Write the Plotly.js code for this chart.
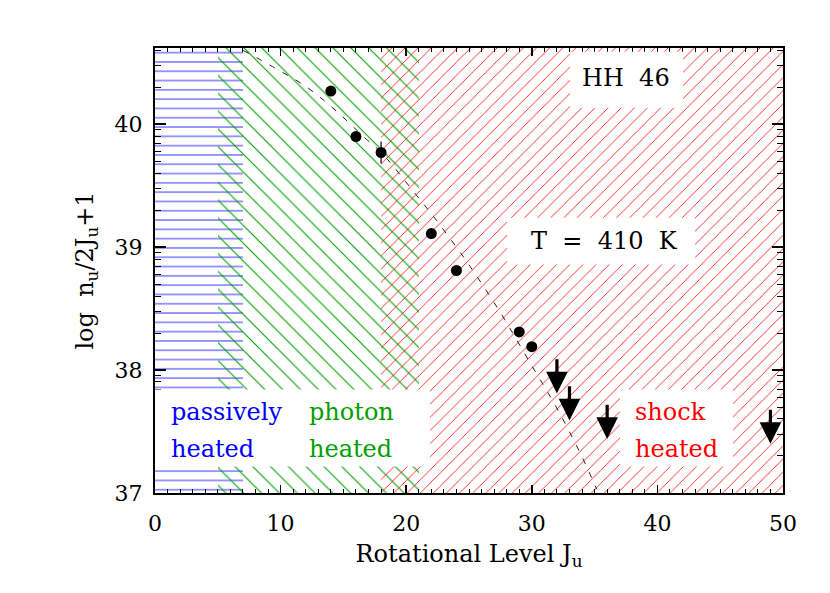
<!DOCTYPE html>
<html>
<head>
<meta charset="utf-8">
<script src="https://cdn.plot.ly/plotly-3.0.1.min.js"></script>
<style>
  html, body { margin: 0; padding: 0; background: #fff; }
  #plot { width: 830px; height: 593px; }
</style>
</head>
<body>
<div id="plot"></div>
<script>
// detected levels
const levelJ = [14, 16, 18, 22, 24, 29, 30];
const levelLogN = [40.27, 39.90, 39.77, 39.11, 38.81, 38.31, 38.19];
const levelErr = [0, 0, 0.09, 0, 0, 0, 0];

// upper limits (top of the arrow)
const limitJ = [32, 33, 36, 49];
const limitLogN = [38.10, 37.88, 37.73, 37.69];

// T = 410 K fit
const fitJ = [7.03, 9.55, 12.08, 14.47, 16.72, 18.05, 20.57, 22.43, 25.08, 27.60, 29.86, 31.98, 33.97, 35.17];
const fitLogN = [40.60, 40.457, 40.302, 40.104, 39.888, 39.766, 39.454, 39.215, 38.844, 38.451, 38.059, 37.693, 37.30, 37.03];

// heating regions in J
const regionName = ['passively heated', 'photon heated', 'shock heated'];
const regionStart = [0, 5, 18];
const regionEnd = [7, 21, 50];
const regionColor = ['#0000ff', '#00a000', '#ff0000'];
const regionHatch = ['-', '\\', '/'];
const regionHatchSize = [9.3, 12.6, 9.3];

const xTicks = [0, 10, 20, 30, 40, 50];
const yTicks = [37, 38, 39, 40];

const yRange = [37, 40.62];
const arrowLen = 0.29;
const font = 'DejaVu Serif';

// log-style minor ticks as drawn by IDL
const yMinor = [];
yTicks.forEach(n => {
  for (let k = 2; k <= 9; k++) {
    const v = n + Math.log10(k);
    if (v < yRange[1]) yMinor.push(v);
  }
});

const traces = regionName.map((name, i) => ({
  type: 'bar',
  name: name,
  x: [(regionStart[i] + regionEnd[i]) / 2],
  width: [regionEnd[i] - regionStart[i]],
  base: [yRange[0]],
  y: [yRange[1] - yRange[0]],
  marker: {
    color: regionColor[i],
    line: { width: 0 },
    pattern: { shape: regionHatch[i], size: regionHatchSize[i], solidity: 0.085, fillmode: 'replace' }
  },
  hoverinfo: 'skip'
}));

traces.push({
  type: 'scatter',
  mode: 'lines',
  x: fitJ,
  y: fitLogN,
  line: { color: '#222', width: 1, dash: '6px,9px', shape: 'spline' },
  hoverinfo: 'skip'
});

traces.push({
  type: 'scatter',
  mode: 'markers',
  x: levelJ,
  y: levelLogN,
  marker: { color: 'black', size: 11 },
  error_y: { type: 'data', array: levelErr, width: 0, thickness: 1.2, color: 'black' }
});

const annotations = limitJ.map((j, i) => ({
  x: j, y: limitLogN[i] - arrowLen,
  ax: j, ay: limitLogN[i],
  xref: 'x', yref: 'y', axref: 'x', ayref: 'y',
  text: '', showarrow: true,
  arrowhead: 2, arrowsize: 1.35, arrowwidth: 3.2, arrowcolor: 'black'
}));

const nb = '\u00a0';
function label(text, x, y, color, anchor) {
  return {
    x: x, y: y, xref: 'x', yref: 'y', text: text, showarrow: false,
    xanchor: anchor, yanchor: 'middle',
    font: { family: font, size: 24, color: color }
  };
}
annotations.push(
  label('HH' + nb + nb + '46', 37.5, 40.378, 'black', 'center'),
  label('T' + nb + nb + '=' + nb + nb + '410' + nb + nb + 'K', 35.75, 39.053, 'black', 'center'),
  label('passively', 1.1, 37.655, regionColor[0], 'left'),
  label('heated', 1.1, 37.362, regionColor[0], 'left'),
  label('photon', 12.1, 37.655, regionColor[1], 'left'),
  label('heated', 12.1, 37.362, regionColor[1], 'left'),
  label('shock', 38.06, 37.655, regionColor[2], 'left'),
  label('heated', 38.06, 37.362, regionColor[2], 'left')
);

// white boxes behind the labels
function box(x0, x1, y0, y1) {
  return { type: 'rect', xref: 'x', yref: 'y', x0: x0, x1: x1, y0: y0, y1: y1,
    fillcolor: 'white', line: { width: 0 }, layer: 'above' };
}
const shapes = [
  box(33.04, 42.04, 40.134, 40.59),
  box(28.03, 43.0, 38.858, 39.24),
  box(0, 21.9, 37.215, 37.842),
  box(37.02, 46.02, 37.215, 37.842)
];

const layout = {
  width: 830,
  height: 593,
  margin: { l: 155, r: 47, t: 48, b: 100 },
  paper_bgcolor: 'white',
  plot_bgcolor: 'white',
  showlegend: false,
  barmode: 'overlay',
  bargap: 0,
  font: { family: font, color: 'black' },
  xaxis: {
    range: [0, 50],
    tickvals: xTicks,
    ticks: 'inside', ticklen: 8, tickwidth: 1.5, tickcolor: 'black',
    showline: true, linewidth: 2, linecolor: 'black', mirror: 'allticks',
    showgrid: false, zeroline: false,
    minor: { dtick: 1, ticks: 'inside', ticklen: 4, tickwidth: 1, tickcolor: 'black', showgrid: false },
    tickfont: { family: font, size: 22, color: 'black' },
    ticklabelstandoff: 10,
    title: { text: 'Rotational Level J<sub>u</sub>', font: { family: font, size: 24, color: 'black' }, standoff: 10 }
  },
  yaxis: {
    range: yRange,
    tickvals: yTicks,
    ticks: 'inside', ticklen: 11, tickwidth: 1.5, tickcolor: 'black',
    showline: true, linewidth: 2, linecolor: 'black', mirror: 'allticks',
    showgrid: false, zeroline: false,
    minor: { tickmode: 'array', tickvals: yMinor, ticks: 'inside', ticklen: 6, tickwidth: 1, tickcolor: 'black', showgrid: false },
    tickfont: { family: font, size: 22, color: 'black' },
    ticklabelstandoff: 6,
    title: { text: 'log' + nb + nb + 'n<sub>u</sub>/2J<sub>u</sub>+1', font: { family: font, size: 24, color: 'black' }, standoff: 14 }
  },
  shapes: shapes,
  annotations: annotations
};

Plotly.newPlot('plot', traces, layout, { displayModeBar: false, staticPlot: true });
</script>
</body>
</html>
